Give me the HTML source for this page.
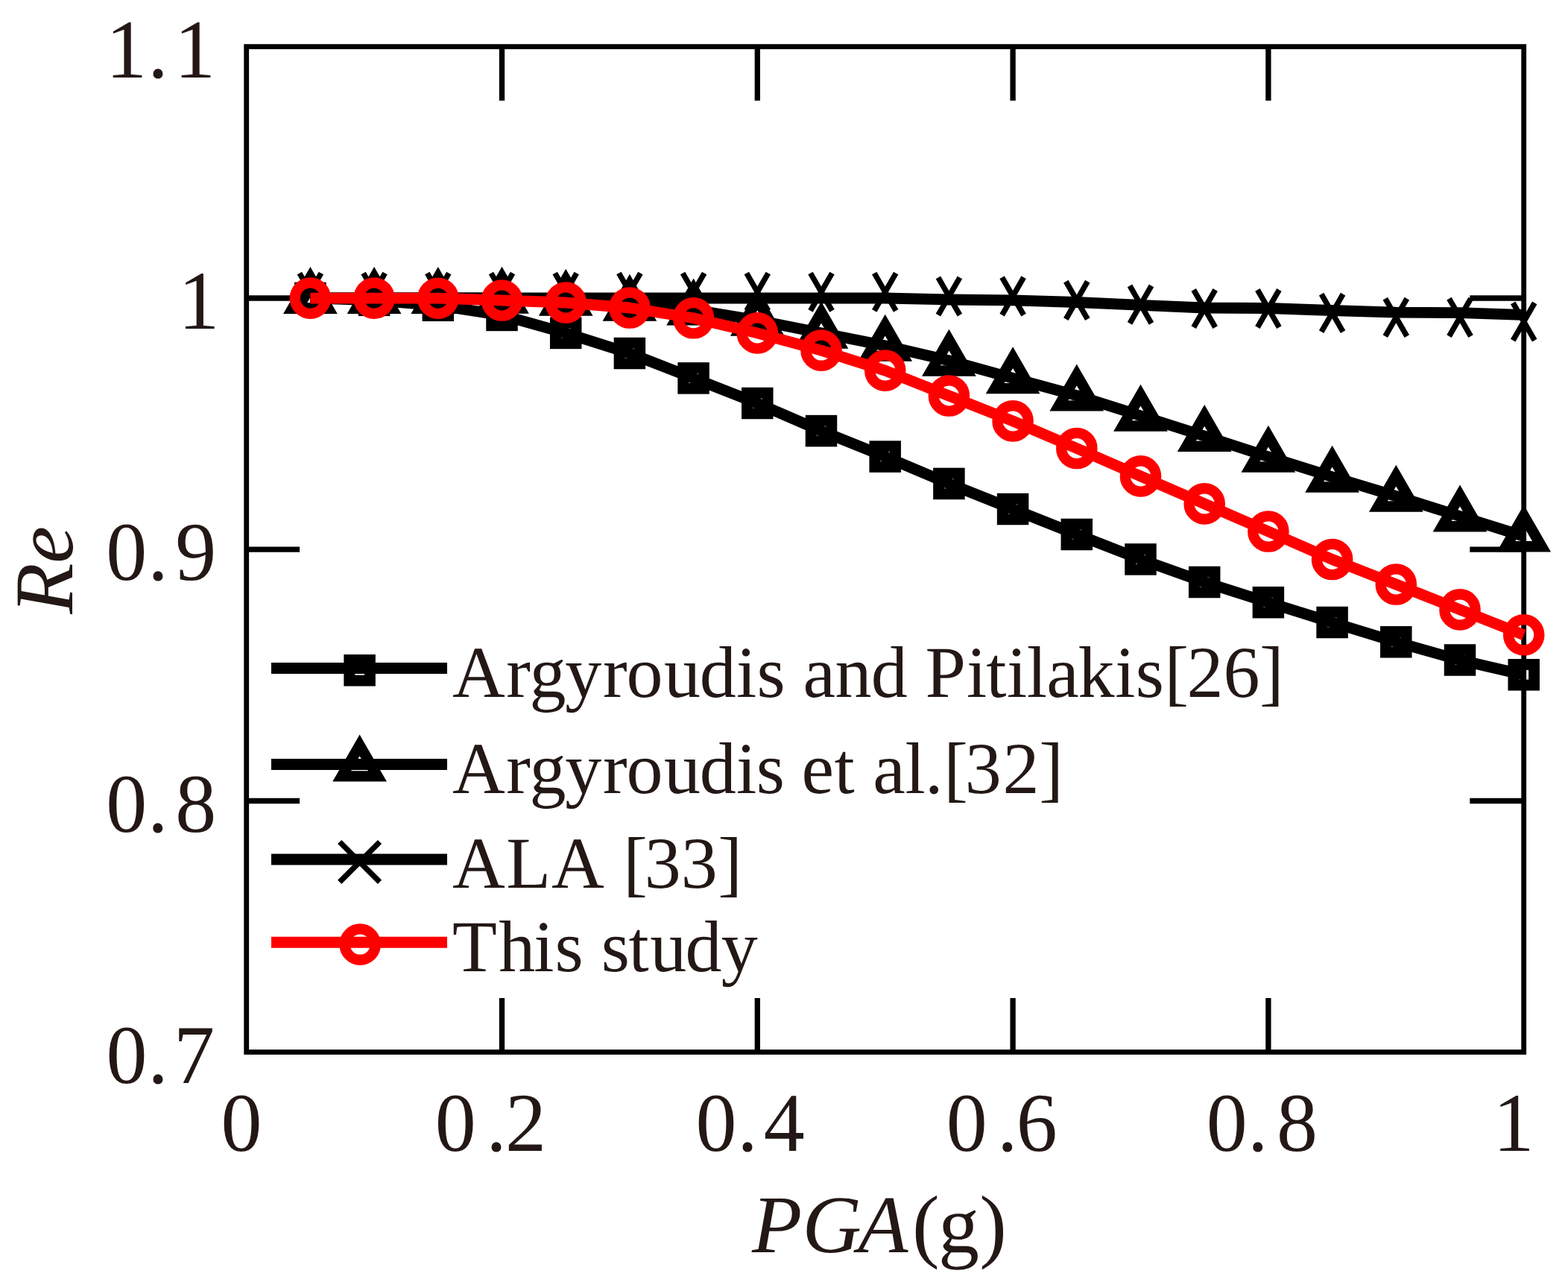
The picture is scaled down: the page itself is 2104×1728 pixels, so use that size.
<!DOCTYPE html>
<html lang="en">
<head>
<meta charset="utf-8">
<title>Re versus PGA(g)</title>
<style>
html,body{margin:0;padding:0;background:#fff;}
body{width:2104px;height:1728px;overflow:hidden;}
svg{display:block;}
</style>
</head>
<body>
<svg width="2104" height="1728" viewBox="0 0 2104 1728" shape-rendering="geometricPrecision" text-rendering="geometricPrecision">
<rect x="0" y="0" width="2104" height="1728" fill="#ffffff"/>
<g id="axes" fill="none" stroke="#000000">
<rect x="330.7" y="62.6" width="1714" height="1348.9" stroke-width="6.8"/>
<path d="M673.5 62.6V135M673.5 1411.5V1339.1M1016.3 62.6V135M1016.3 1411.5V1339.1M1359.1 62.6V135M1359.1 1411.5V1339.1M1701.9 62.6V135M1701.9 1411.5V1339.1M330.7 400H402.1M2044.7 400H1972.3M330.7 737.2H402.1M2044.7 737.2H1972.3M330.7 1074.5H402.1M2044.7 1074.5H1972.3" stroke-width="7.3"/>
</g>
<g id="series-argyroudis-pitilakis">
<polyline points="416.4,399.9 502.1,402.8 587.8,409.8 673.5,422.9 759.2,446.9 844.9,474 930.6,507.4 1016.3,541 1102,578.1 1187.7,612.6 1273.4,648.9 1359.1,683 1444.8,717 1530.5,750.4 1616.2,781 1701.9,808.2 1787.6,835 1873.3,861.3 1959,885.5 2044.7,905.3" fill="none" stroke="#000000" stroke-width="14.8" stroke-linejoin="round"/>
<rect x="402.6" y="386.1" width="27.6" height="27.6" fill="none" stroke="#000000" stroke-width="14.9"/>
<rect x="488.3" y="389" width="27.6" height="27.6" fill="none" stroke="#000000" stroke-width="14.9"/>
<rect x="574" y="396" width="27.6" height="27.6" fill="none" stroke="#000000" stroke-width="14.9"/>
<rect x="659.7" y="409.1" width="27.6" height="27.6" fill="none" stroke="#000000" stroke-width="14.9"/>
<rect x="745.4" y="433.1" width="27.6" height="27.6" fill="none" stroke="#000000" stroke-width="14.9"/>
<rect x="831.1" y="460.2" width="27.6" height="27.6" fill="none" stroke="#000000" stroke-width="14.9"/>
<rect x="916.8" y="493.6" width="27.6" height="27.6" fill="none" stroke="#000000" stroke-width="14.9"/>
<rect x="1002.5" y="527.2" width="27.6" height="27.6" fill="none" stroke="#000000" stroke-width="14.9"/>
<rect x="1088.2" y="564.3" width="27.6" height="27.6" fill="none" stroke="#000000" stroke-width="14.9"/>
<rect x="1173.9" y="598.8" width="27.6" height="27.6" fill="none" stroke="#000000" stroke-width="14.9"/>
<rect x="1259.6" y="635.1" width="27.6" height="27.6" fill="none" stroke="#000000" stroke-width="14.9"/>
<rect x="1345.3" y="669.2" width="27.6" height="27.6" fill="none" stroke="#000000" stroke-width="14.9"/>
<rect x="1431" y="703.2" width="27.6" height="27.6" fill="none" stroke="#000000" stroke-width="14.9"/>
<rect x="1516.7" y="736.6" width="27.6" height="27.6" fill="none" stroke="#000000" stroke-width="14.9"/>
<rect x="1602.4" y="767.2" width="27.6" height="27.6" fill="none" stroke="#000000" stroke-width="14.9"/>
<rect x="1688.1" y="794.4" width="27.6" height="27.6" fill="none" stroke="#000000" stroke-width="14.9"/>
<rect x="1773.8" y="821.2" width="27.6" height="27.6" fill="none" stroke="#000000" stroke-width="14.9"/>
<rect x="1859.5" y="847.5" width="27.6" height="27.6" fill="none" stroke="#000000" stroke-width="14.9"/>
<rect x="1945.2" y="871.7" width="27.6" height="27.6" fill="none" stroke="#000000" stroke-width="14.9"/>
<rect x="2030.9" y="891.5" width="27.6" height="27.6" fill="none" stroke="#000000" stroke-width="14.9"/>
</g>
<g id="series-argyroudis-etal">
<polyline points="416.4,400 502.1,400 587.8,400 673.5,399.8 759.2,402.7 844.9,409.8 930.6,415.6 1016.3,429.7 1102,446.7 1187.7,463.8 1273.4,483.7 1359.1,507.3 1444.8,530.6 1530.5,557.7 1616.2,585 1701.9,612.7 1787.6,639.7 1873.3,665.7 1959,692.5 2044.7,719.5" fill="none" stroke="#000000" stroke-width="14.8" stroke-linejoin="round"/>
<polygon points="416.4,372.4 440.3,413.8 392.5,413.8" fill="none" stroke="#000000" stroke-width="14.4" stroke-linejoin="miter" stroke-miterlimit="10"/>
<polygon points="502.1,372.4 526,413.8 478.2,413.8" fill="none" stroke="#000000" stroke-width="14.4" stroke-linejoin="miter" stroke-miterlimit="10"/>
<polygon points="587.8,372.4 611.7,413.8 563.9,413.8" fill="none" stroke="#000000" stroke-width="14.4" stroke-linejoin="miter" stroke-miterlimit="10"/>
<polygon points="673.5,372.2 697.4,413.6 649.6,413.6" fill="none" stroke="#000000" stroke-width="14.4" stroke-linejoin="miter" stroke-miterlimit="10"/>
<polygon points="759.2,375.1 783.1,416.5 735.3,416.5" fill="none" stroke="#000000" stroke-width="14.4" stroke-linejoin="miter" stroke-miterlimit="10"/>
<polygon points="844.9,382.2 868.8,423.6 821,423.6" fill="none" stroke="#000000" stroke-width="14.4" stroke-linejoin="miter" stroke-miterlimit="10"/>
<polygon points="930.6,388 954.5,429.4 906.7,429.4" fill="none" stroke="#000000" stroke-width="14.4" stroke-linejoin="miter" stroke-miterlimit="10"/>
<polygon points="1016.3,402.1 1040.2,443.5 992.4,443.5" fill="none" stroke="#000000" stroke-width="14.4" stroke-linejoin="miter" stroke-miterlimit="10"/>
<polygon points="1102,419.1 1125.9,460.5 1078.1,460.5" fill="none" stroke="#000000" stroke-width="14.4" stroke-linejoin="miter" stroke-miterlimit="10"/>
<polygon points="1187.7,436.2 1211.6,477.6 1163.8,477.6" fill="none" stroke="#000000" stroke-width="14.4" stroke-linejoin="miter" stroke-miterlimit="10"/>
<polygon points="1273.4,456.1 1297.3,497.5 1249.5,497.5" fill="none" stroke="#000000" stroke-width="14.4" stroke-linejoin="miter" stroke-miterlimit="10"/>
<polygon points="1359.1,479.7 1383,521.1 1335.2,521.1" fill="none" stroke="#000000" stroke-width="14.4" stroke-linejoin="miter" stroke-miterlimit="10"/>
<polygon points="1444.8,503 1468.7,544.4 1420.9,544.4" fill="none" stroke="#000000" stroke-width="14.4" stroke-linejoin="miter" stroke-miterlimit="10"/>
<polygon points="1530.5,530.1 1554.4,571.5 1506.6,571.5" fill="none" stroke="#000000" stroke-width="14.4" stroke-linejoin="miter" stroke-miterlimit="10"/>
<polygon points="1616.2,557.4 1640.1,598.8 1592.3,598.8" fill="none" stroke="#000000" stroke-width="14.4" stroke-linejoin="miter" stroke-miterlimit="10"/>
<polygon points="1701.9,585.1 1725.8,626.5 1678,626.5" fill="none" stroke="#000000" stroke-width="14.4" stroke-linejoin="miter" stroke-miterlimit="10"/>
<polygon points="1787.6,612.1 1811.5,653.5 1763.7,653.5" fill="none" stroke="#000000" stroke-width="14.4" stroke-linejoin="miter" stroke-miterlimit="10"/>
<polygon points="1873.3,638.1 1897.2,679.5 1849.4,679.5" fill="none" stroke="#000000" stroke-width="14.4" stroke-linejoin="miter" stroke-miterlimit="10"/>
<polygon points="1959,664.9 1982.9,706.3 1935.1,706.3" fill="none" stroke="#000000" stroke-width="14.4" stroke-linejoin="miter" stroke-miterlimit="10"/>
<polygon points="2044.7,691.9 2068.6,733.3 2020.8,733.3" fill="none" stroke="#000000" stroke-width="14.4" stroke-linejoin="miter" stroke-miterlimit="10"/>
</g>
<g id="series-ala">
<polyline points="416.4,400 502.1,400 587.8,400 673.5,400 759.2,400 844.9,400 930.6,400 1016.3,400 1102,400 1187.7,400 1273.4,402 1359.1,402.8 1444.8,405.5 1530.5,409.4 1616.2,413 1701.9,413.5 1787.6,416.5 1873.3,419.1 1959,419.7 2044.7,422.4" fill="none" stroke="#000000" stroke-width="14.8" stroke-linejoin="round"/>
<path d="M401.9 366.5L430.9 416.9M430.9 366.5L401.9 416.9" fill="none" stroke="#000000" stroke-width="7.4"/>
<path d="M487.6 366.5L516.6 416.9M516.6 366.5L487.6 416.9" fill="none" stroke="#000000" stroke-width="7.4"/>
<path d="M573.3 366.5L602.3 416.9M602.3 366.5L573.3 416.9" fill="none" stroke="#000000" stroke-width="7.4"/>
<path d="M659 366.5L688 416.9M688 366.5L659 416.9" fill="none" stroke="#000000" stroke-width="7.4"/>
<path d="M744.7 366.5L773.7 416.9M773.7 366.5L744.7 416.9" fill="none" stroke="#000000" stroke-width="7.4"/>
<path d="M830.4 366.5L859.4 416.9M859.4 366.5L830.4 416.9" fill="none" stroke="#000000" stroke-width="7.4"/>
<path d="M916.1 366.5L945.1 416.9M945.1 366.5L916.1 416.9" fill="none" stroke="#000000" stroke-width="7.4"/>
<path d="M1001.8 366.5L1030.8 416.9M1030.8 366.5L1001.8 416.9" fill="none" stroke="#000000" stroke-width="7.4"/>
<path d="M1087.5 366.5L1116.5 416.9M1116.5 366.5L1087.5 416.9" fill="none" stroke="#000000" stroke-width="7.4"/>
<path d="M1173.2 366.5L1202.2 416.9M1202.2 366.5L1173.2 416.9" fill="none" stroke="#000000" stroke-width="7.4"/>
<path d="M1258.9 372.3L1287.9 422.7M1287.9 372.3L1258.9 422.7" fill="none" stroke="#000000" stroke-width="7.4"/>
<path d="M1344.6 372.2L1373.6 422.6M1373.6 372.2L1344.6 422.6" fill="none" stroke="#000000" stroke-width="7.4"/>
<path d="M1430.3 377.7L1459.3 428.1M1459.3 377.7L1430.3 428.1" fill="none" stroke="#000000" stroke-width="7.4"/>
<path d="M1516 383.4L1545 433.8M1545 383.4L1516 433.8" fill="none" stroke="#000000" stroke-width="7.4"/>
<path d="M1601.7 388.8L1630.7 439.2M1630.7 388.8L1601.7 439.2" fill="none" stroke="#000000" stroke-width="7.4"/>
<path d="M1687.4 388.8L1716.4 439.2M1716.4 388.8L1687.4 439.2" fill="none" stroke="#000000" stroke-width="7.4"/>
<path d="M1773.1 394.7L1802.1 445.1M1802.1 394.7L1773.1 445.1" fill="none" stroke="#000000" stroke-width="7.4"/>
<path d="M1858.8 400.7L1887.8 451.1M1887.8 400.7L1858.8 451.1" fill="none" stroke="#000000" stroke-width="7.4"/>
<path d="M1944.5 400.7L1973.5 451.1M1973.5 400.7L1944.5 451.1" fill="none" stroke="#000000" stroke-width="7.4"/>
<path d="M2030.2 406.3L2059.2 456.7M2059.2 406.3L2030.2 456.7" fill="none" stroke="#000000" stroke-width="7.4"/>
</g>
<g id="series-this-study">
<polyline points="416.4,400.1 502.1,400.1 587.8,400.2 673.5,403 759.2,406 844.9,413 930.6,426.8 1016.3,446.9 1102,470.1 1187.7,497.1 1273.4,531 1359.1,564.9 1444.8,601.5 1530.5,638.9 1616.2,675.9 1701.9,713 1787.6,750.5 1873.3,784 1959,817.9 2044.7,851.8" fill="none" stroke="#ff0000" stroke-width="14.8" stroke-linejoin="round"/>
<circle cx="416.4" cy="400.1" r="20.65" fill="none" stroke="#ff0000" stroke-width="14.3"/>
<circle cx="502.1" cy="400.1" r="20.65" fill="none" stroke="#ff0000" stroke-width="14.3"/>
<circle cx="587.8" cy="400.2" r="20.65" fill="none" stroke="#ff0000" stroke-width="14.3"/>
<circle cx="673.5" cy="403" r="20.65" fill="none" stroke="#ff0000" stroke-width="14.3"/>
<circle cx="759.2" cy="406" r="20.65" fill="none" stroke="#ff0000" stroke-width="14.3"/>
<circle cx="844.9" cy="413" r="20.65" fill="none" stroke="#ff0000" stroke-width="14.3"/>
<circle cx="930.6" cy="426.8" r="20.65" fill="none" stroke="#ff0000" stroke-width="14.3"/>
<circle cx="1016.3" cy="446.9" r="20.65" fill="none" stroke="#ff0000" stroke-width="14.3"/>
<circle cx="1102" cy="470.1" r="20.65" fill="none" stroke="#ff0000" stroke-width="14.3"/>
<circle cx="1187.7" cy="497.1" r="20.65" fill="none" stroke="#ff0000" stroke-width="14.3"/>
<circle cx="1273.4" cy="531" r="20.65" fill="none" stroke="#ff0000" stroke-width="14.3"/>
<circle cx="1359.1" cy="564.9" r="20.65" fill="none" stroke="#ff0000" stroke-width="14.3"/>
<circle cx="1444.8" cy="601.5" r="20.65" fill="none" stroke="#ff0000" stroke-width="14.3"/>
<circle cx="1530.5" cy="638.9" r="20.65" fill="none" stroke="#ff0000" stroke-width="14.3"/>
<circle cx="1616.2" cy="675.9" r="20.65" fill="none" stroke="#ff0000" stroke-width="14.3"/>
<circle cx="1701.9" cy="713" r="20.65" fill="none" stroke="#ff0000" stroke-width="14.3"/>
<circle cx="1787.6" cy="750.5" r="20.65" fill="none" stroke="#ff0000" stroke-width="14.3"/>
<circle cx="1873.3" cy="784" r="20.65" fill="none" stroke="#ff0000" stroke-width="14.3"/>
<circle cx="1959" cy="817.9" r="20.65" fill="none" stroke="#ff0000" stroke-width="14.3"/>
<circle cx="2044.7" cy="851.8" r="20.65" fill="none" stroke="#ff0000" stroke-width="14.3"/>
</g>
<g id="legend">
<line x1="364" y1="896.4" x2="600" y2="896.4" stroke="#000000" stroke-width="15"/>
<line x1="364" y1="1025.5" x2="600" y2="1025.5" stroke="#000000" stroke-width="15"/>
<line x1="364" y1="1152.9" x2="600" y2="1152.9" stroke="#000000" stroke-width="15"/>
<line x1="364" y1="1264.2" x2="600" y2="1264.2" stroke="#ff0000" stroke-width="15"/>
<rect x="468.8" y="885.5" width="27.6" height="27.6" fill="none" stroke="#000000" stroke-width="14.9"/>
<polygon points="482.6,1000 506.5,1041.4 458.7,1041.4" fill="none" stroke="#000000" stroke-width="14.4" stroke-linejoin="miter" stroke-miterlimit="10"/>
<path d="M455.7 1129.5L509.5 1183.3M509.5 1129.5L455.7 1183.3" fill="none" stroke="#000000" stroke-width="7.4"/>
<circle cx="483.2" cy="1267.1" r="20.65" fill="none" stroke="#ff0000" stroke-width="14.3"/>
</g>
<g id="labels" fill="#231815" font-family="'Liberation Serif', serif">
<text transform="translate(0 103.7) scale(1 1.02)" x="142.12 198.15 234.07" y="0" font-size="110">1.1</text>
<text transform="translate(0 441) scale(1 1.02)" x="239.22" y="0" font-size="110">1</text>
<text transform="translate(0 778.2) scale(1 1.02)" x="142.25 198.15 235.18" y="0" font-size="110">0.9</text>
<text transform="translate(0 1115.8) scale(1 1.02)" x="142.25 198.05 235.35" y="0" font-size="110">0.8</text>
<text transform="translate(0 1453) scale(1 1.02)" x="142.45 198.25 232.91" y="0" font-size="110">0.7</text>
<text transform="translate(0 1543.8) scale(1 1.02)" x="296.5" y="0" font-size="110">0</text>
<text transform="translate(0 1543.8) scale(1 1.02)" x="583.7 652.15 678.12" y="0" font-size="110">0.2</text>
<text transform="translate(0 1543.8) scale(1 1.02)" x="933.6 989.25 1024.64" y="0" font-size="110">0.4</text>
<text transform="translate(0 1543.8) scale(1 1.02)" x="1269.7 1338.05 1363.87" y="0" font-size="110">0.6</text>
<text transform="translate(0 1543.8) scale(1 1.02)" x="1618.7 1673.95 1713.1" y="0" font-size="110">0.8</text>
<text transform="translate(0 1543.8) scale(1 1.02)" x="2003.47" y="0" font-size="110">1</text>
<text y="1680.3" font-size="110"><tspan font-style="italic" x="1008.95 1076.48 1151.22">PGA</tspan><tspan x="1223.89 1258.98 1314.23">(g)</tspan></text>
<text transform="translate(96.9 823.78) rotate(-90)" x="0 68.06" y="0" font-size="112" font-style="italic">Re</text>
<text x="606.94 679.13 710.48 758.24 809.08 840.4 890.99 938.83 988.04 1015.44 1053.58 1077.55 1120.57 1168.68 1217.68 1241.45 1297.09 1323.29 1350.99 1377.69 1404.35 1446.47 1496.29 1523.64 1562.42 1592.4 1641.4 1690.1" y="934.9" font-size="98">Argyroudis and Pitilakis[26]</text>
<text x="606.94 679.13 710.48 758.24 809.08 840.4 890.99 938.83 988.04 1014.84 1052.98 1075.39 1119.44 1146.67 1171.35 1214.39 1241.1 1266.22 1294.67 1345.4 1394.3" y="1063.7" font-size="98">Argyroudis et al.[32]</text>
<text x="606.94 679.35 740.04 810.82 836.32 864.72 913.72 963.15" y="1190.8" font-size="98">ALA [33]</text>
<text x="606.95 669.22 716.24 744.59 782.73 806.64 843.39 872.34 919.58 967.64" y="1303" font-size="98">This study</text>
</g>
</svg>
</body>
</html>
